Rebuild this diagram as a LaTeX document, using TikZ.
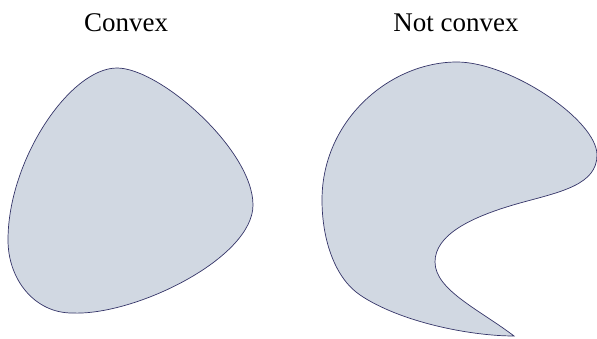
\documentclass[tikz,border=0pt]{standalone}
\usepackage{fontspec}
\setmainfont{Liberation Serif}
\definecolor{blobfill}{RGB}{209,216,226}
\definecolor{blobline}{RGB}{52,52,104}
\begin{document}
\begin{tikzpicture}[x=1pt,y=-1pt,
  blob/.style={fill=blobfill,draw=blobline,line width=0.7pt},
  caption/.style={font=\fontsize{27}{32}\selectfont,inner sep=0pt}]
\useasboundingbox (0,0) rectangle (597,339);
% convex region
\path[blob] (117,68)
  .. controls (160,68) and (253,150) .. (253,205)
  .. controls (253,258) and (135,316) .. (72,313)
  .. controls (35,313) and (8,280) .. (8,240)
  .. controls (8,160) and (70,68) .. (117,68) -- cycle;
% non-convex region, pointed at its lower tip
\path[blob] (457,62)
  .. controls (510,62) and (597,120) .. (597,155)
  .. controls (597,185) and (560,192) .. (520,203)
  .. controls (470,217) and (435,235) .. (435,262)
  .. controls (435,290) and (480,310) .. (514,336)
  .. controls (470,336) and (400,322) .. (360,295)
  .. controls (335,278) and (322,240) .. (322,200)
  .. controls (322,120) and (390,62) .. (457,62) -- cycle;
\node[caption] (c1) at (126,23) {Convex};
\node[caption] (c2) at (456,23) {Not convex};
\end{tikzpicture}
\end{document}
